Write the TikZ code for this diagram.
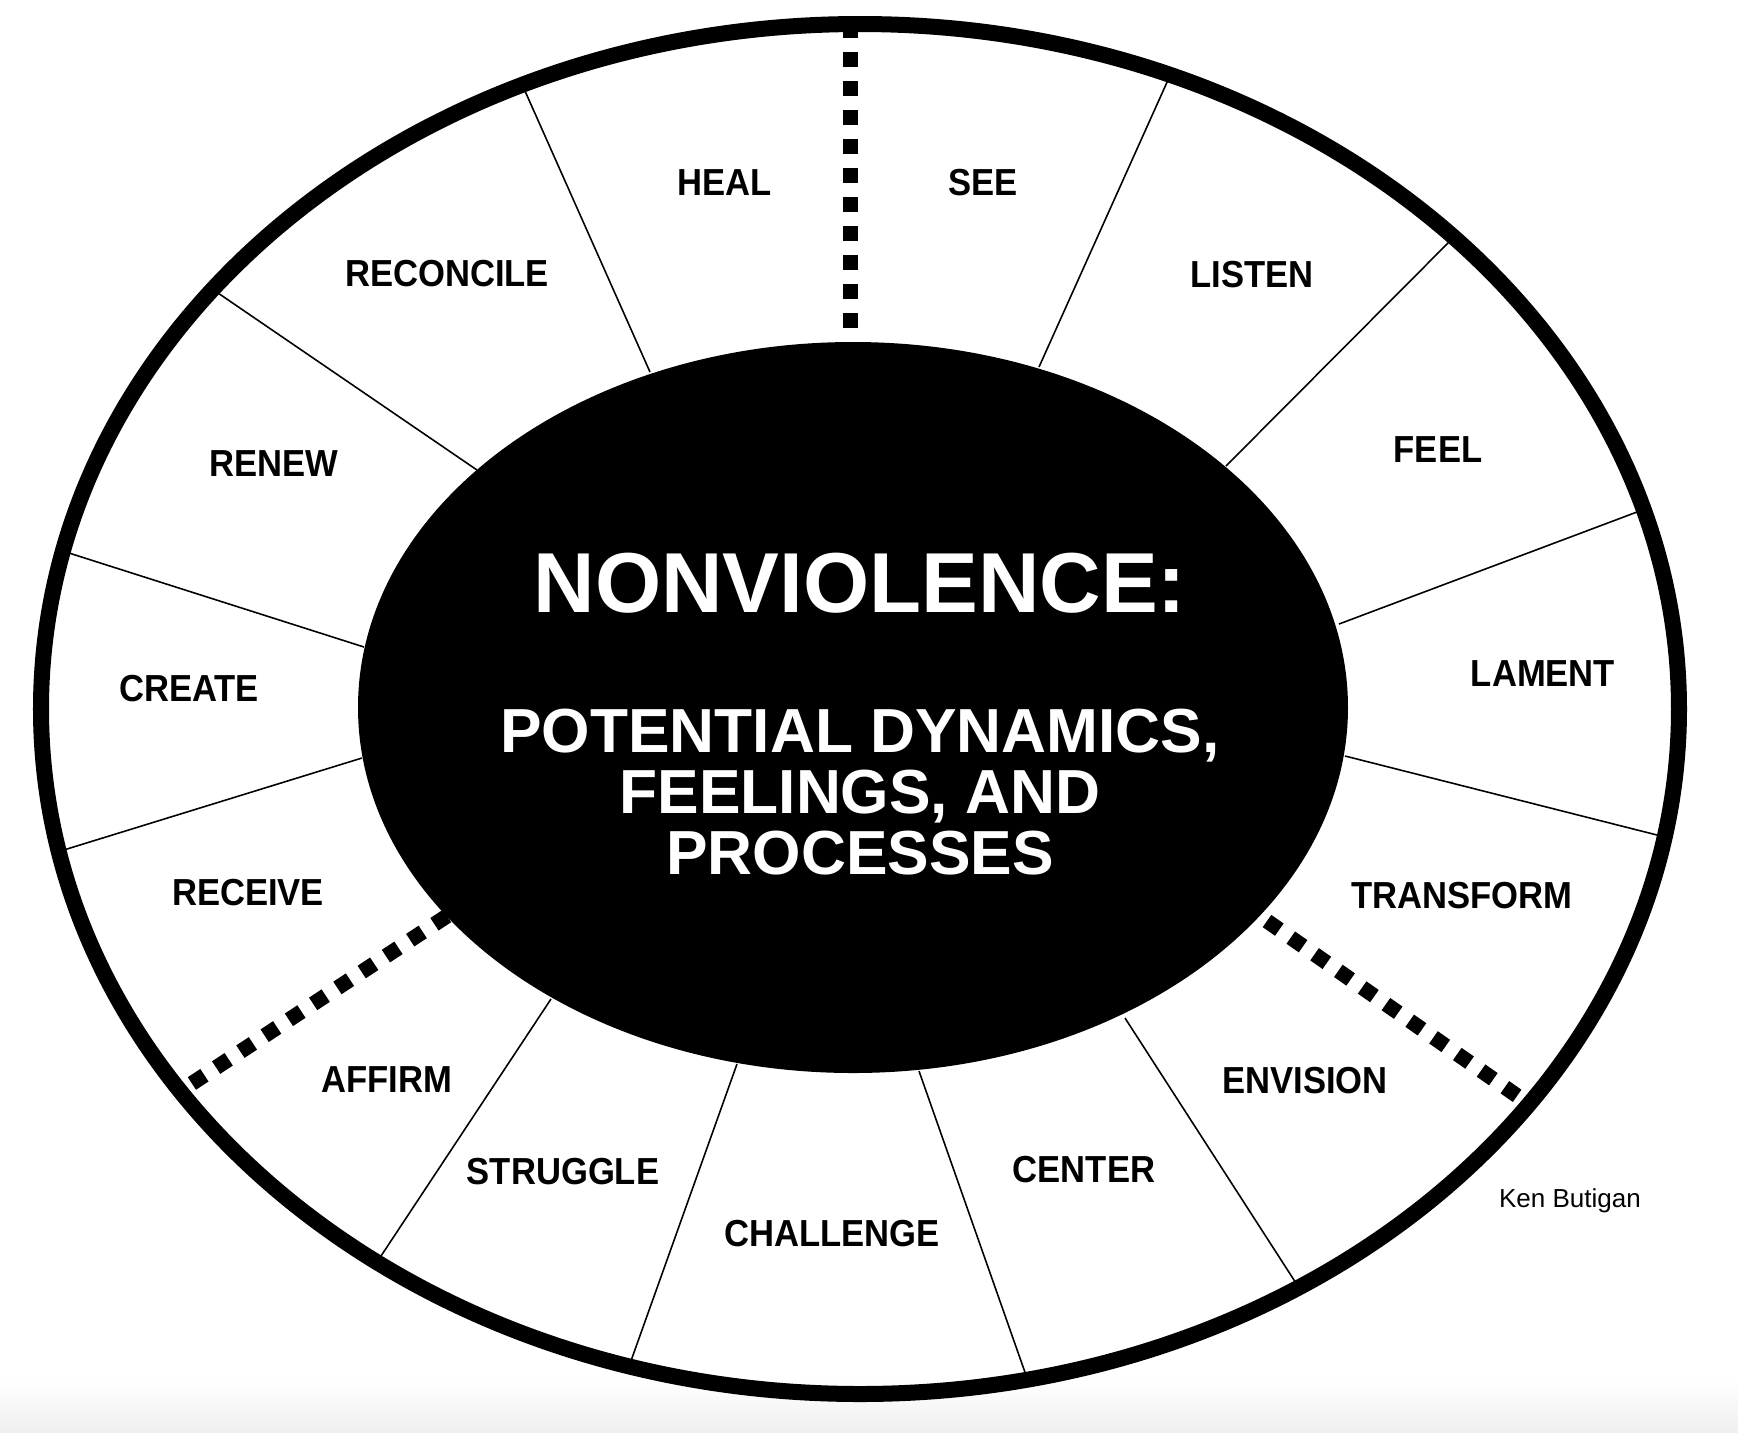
\documentclass[tikz,border=0pt]{standalone}
\usepackage{fontspec}
\setmainfont{Liberation Sans}
\newfontfamily\wheelfont[FakeStretch=0.92]{Liberation Sans}
\usepackage{tikz}
\usetikzlibrary{calc}

\tikzset{
  spoke/.style={line width=0.45pt},
  dotspoke/.style={line width=0.15cm, dash pattern=on 0.15cm off 0.14cm},
  word/.style={font=\wheelfont\bfseries\fontsize{10.7}{12}\selectfont, inner sep=0pt},
}

\begin{document}
\begin{tikzpicture}[x=0.01cm, y=-0.01cm]
\useasboundingbox (0,0) rectangle (1738,1432);
\shade[top color=white, bottom color=black!6] (0,1380) rectangle (1738,1432);
% thin spokes, inner end / outer end
\foreach \a/\b/\c/\d in {650/372/525/91, 477/470/218/293, 364/647/69/553,
    362/758/67/849, 551/999/381/1256, 737/1064/632/1358, 919/1071/1027/1378,
    1125/1018/1294/1280, 1345/756/1657/835, 1339/624/1637/512,
    1226/466/1449/242, 1039/367/1168/80} {
  \draw[spoke] (\a,\b) -- ($(\c,\d)!-0.08cm!(\a,\b)$);
}
% dotted spokes
\foreach \a/\b/\c/\d in {447/916/188/1086, 1267/921/1516/1095} {
  \draw[dotspoke] (\a,\b) -- ($(\c,\d)!-0.08cm!(\a,\b)$);
}
\draw[dotspoke] (850,328) -- (850,22);
\fill (853,707.5) ellipse [x radius=495, y radius=365.5];
\draw[line width=0.16cm] (860,709) ellipse [x radius=819, y radius=685]; % outer ring

\node[text=white, font=\bfseries\fontsize{24.2}{28}\selectfont] (title) at (860,583) {NONVIOLENCE:};
\node[text=white, align=center, font=\bfseries\fontsize{17.7}{17.4}\selectfont] (subtitle) at (860,792)
  {POTENTIAL DYNAMICS,\\FEELINGS, AND\\PROCESSES};

\node[word] (heal) at (725,183) {HEAL};
\node[word] (see) at (983,183) {SEE};
\node[word] (reconcile) at (447,274) {RECONCILE};
\node[word] (listen) at (1252,275) {LISTEN};
\node[word] (renew) at (274,464) {RENEW};
\node[word] (feel) at (1438,450) {FEEL};
\node[word] (create) at (189,689) {CREATE};
\node[word] (lament) at (1543,674) {LAMENT};
\node[word] (receive) at (248,893) {RECEIVE};
\node[word] (transform) at (1462,896) {TRANSFORM};
\node[word] (affirm) at (387,1080) {AFFIRM};
\node[word] (envision) at (1305,1081) {ENVISION};
\node[word] (struggle) at (563,1172) {STRUGGLE};
\node[word] (center) at (1084,1170) {CENTER};
\node[word] (challenge) at (832,1234) {CHALLENGE};

\node[font=\fontsize{7.4}{9}\selectfont] (author) at (1570,1201) {Ken Butigan};
\end{tikzpicture}
\end{document}
